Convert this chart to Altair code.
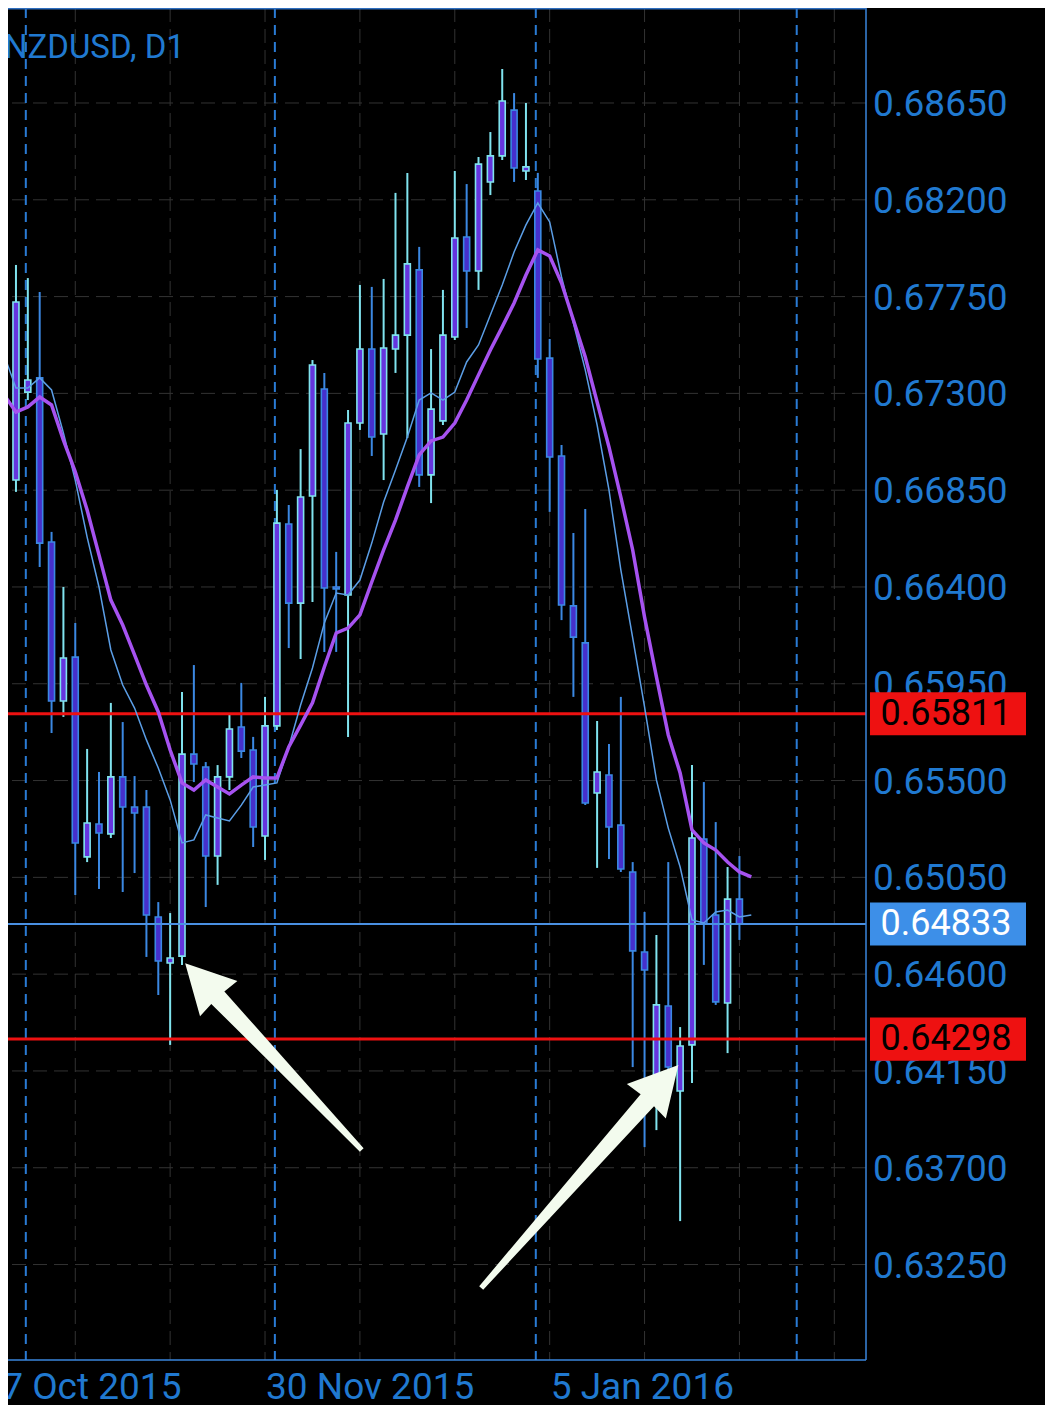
import altair as alt
import pandas as pd

# ---------------- data ----------------
bar_index = list(range(62))
open_ = [0.66897, 0.67306, 0.67372, 0.66609, 0.65870, 0.66074, 0.65145, 0.65298, 0.65252, 0.65517,
         0.65377, 0.65377, 0.64866, 0.64652, 0.64684, 0.65623, 0.65563, 0.65149, 0.65517, 0.65749,
         0.65642, 0.65242, 0.65754, 0.66693, 0.66325, 0.66823, 0.67320, 0.66400, 0.66363, 0.67162,
         0.67506, 0.67111, 0.67506, 0.67571, 0.67874, 0.66921, 0.67172, 0.67562, 0.68027, 0.67869,
         0.68283, 0.68404, 0.68617, 0.68334, 0.68241, 0.67464, 0.67009, 0.66312, 0.66140, 0.65442,
         0.65526, 0.65293, 0.65075, 0.64703, 0.64131, 0.64452, 0.64057, 0.64271, 0.65228, 0.64875,
         0.64466, 0.64949]
high = [0.67897, 0.67836, 0.67771, 0.66656, 0.66400, 0.66233, 0.65647, 0.65540, 0.65861, 0.65772,
        0.65521, 0.65456, 0.64935, 0.64884, 0.65912, 0.66037, 0.65586, 0.65572, 0.65805, 0.65954,
        0.65703, 0.65889, 0.66851, 0.66781, 0.67041, 0.67455, 0.67395, 0.66563, 0.67223, 0.67804,
        0.67795, 0.67832, 0.68232, 0.68325, 0.67981, 0.67506, 0.67781, 0.68334, 0.68273, 0.68399,
        0.68515, 0.68808, 0.68696, 0.68650, 0.68325, 0.67553, 0.67060, 0.66651, 0.66763, 0.65777,
        0.65670, 0.65889, 0.65121, 0.64889, 0.64782, 0.65121, 0.64354, 0.65572, 0.65493, 0.65307,
        0.65098, 0.65149]
low = [0.66842, 0.67269, 0.66493, 0.65721, 0.65796, 0.64968, 0.65121, 0.64996, 0.65233, 0.64982,
       0.65070, 0.64680, 0.64503, 0.64271, 0.64643, 0.65493, 0.64912, 0.65015, 0.65456, 0.65605,
       0.65191, 0.65131, 0.65735, 0.66116, 0.66065, 0.66330, 0.66098, 0.66098, 0.65703, 0.67130,
       0.67009, 0.66897, 0.67395, 0.67093, 0.66865, 0.66790, 0.67153, 0.67548, 0.67604, 0.67781,
       0.68222, 0.68385, 0.68283, 0.68292, 0.67372, 0.66749, 0.66246, 0.65889, 0.65386, 0.65094,
       0.65135, 0.65075, 0.64168, 0.63796, 0.63875, 0.64015, 0.63452, 0.64094, 0.64643, 0.64457,
       0.64233, 0.64759]
close = [0.67725, 0.67362, 0.66604, 0.65870, 0.66070, 0.65210, 0.65303, 0.65256, 0.65517, 0.65377,
         0.65349, 0.64875, 0.64661, 0.64675, 0.65623, 0.65577, 0.65149, 0.65517, 0.65740, 0.65637,
         0.65284, 0.65754, 0.66697, 0.66325, 0.66818, 0.67432, 0.66395, 0.66391, 0.67162, 0.67506,
         0.67097, 0.67511, 0.67571, 0.67902, 0.66921, 0.67227, 0.67571, 0.68022, 0.67869, 0.68366,
         0.68404, 0.68659, 0.68348, 0.68353, 0.67460, 0.67004, 0.66316, 0.66167, 0.65396, 0.65540,
         0.65284, 0.65089, 0.64708, 0.64619, 0.64457, 0.64168, 0.64266, 0.65233, 0.64833, 0.64471,
         0.64949, 0.64833]

ma_index = list(range(-1, 63))
ma_fast = [0.67478, 0.67325, 0.67325, 0.67372, 0.67316, 0.67116, 0.66897, 0.66632, 0.66400, 0.66107,
           0.65944, 0.65837, 0.65689, 0.65558, 0.65410, 0.65210, 0.65224, 0.65340, 0.65326, 0.65312,
           0.65386, 0.65470, 0.65479, 0.65489, 0.65656, 0.65851, 0.66023, 0.66233, 0.66372, 0.66363,
           0.66432, 0.66604, 0.66795, 0.66944, 0.67097, 0.67269, 0.67302, 0.67269, 0.67306, 0.67446,
           0.67525, 0.67664, 0.67804, 0.67957, 0.68083, 0.68185, 0.68097, 0.67841, 0.67627, 0.67409,
           0.67153, 0.66851, 0.66479, 0.66163, 0.65842, 0.65503, 0.65279, 0.65098, 0.64852, 0.64838,
           0.64889, 0.64898, 0.64866, 0.64875]
ma_slow = [0.67293, 0.67213, 0.67237, 0.67283, 0.67246, 0.67083, 0.66935, 0.66758, 0.66549, 0.66339,
           0.66223, 0.66084, 0.65944, 0.65819, 0.65642, 0.65489, 0.65456, 0.65503, 0.65470, 0.65438,
           0.65479, 0.65517, 0.65512, 0.65512, 0.65656, 0.65758, 0.65861, 0.66028, 0.66186, 0.66209,
           0.66270, 0.66423, 0.66572, 0.66711, 0.66865, 0.67014, 0.67079, 0.67097, 0.67162, 0.67269,
           0.67386, 0.67502, 0.67609, 0.67720, 0.67850, 0.67967, 0.67939, 0.67813, 0.67641, 0.67469,
           0.67260, 0.67051, 0.66818, 0.66572, 0.66260, 0.65982, 0.65712, 0.65535, 0.65270, 0.65210,
           0.65177, 0.65121, 0.65075, 0.65052]

y_ticks = [0.6325, 0.6370, 0.6415, 0.6460, 0.6505, 0.6550, 0.6595,
           0.6640, 0.6685, 0.6730, 0.6775, 0.6820, 0.6865]
grid_bars = [5, 13, 21, 29, 37, 45, 53, 61, 69]
date_bars = [-3, 21, 45]
date_labels = ["27 Oct 2015", "30 Nov 2015", "5 Jan 2016"]
month_separators = [0.83, 21.83, 43.83, 65.83]
level_prices = [0.65811, 0.64298]
current_price = [0.64833]
symbol_title = ["NZDUSD, D1"]
arrow_bar = [21.71, 47.54]
arrow_price = [0.64217, 0.63659]

# ---------------- styles ----------------
BG = "#000000"
GRID = "#333333"
AXIS = "#3a86dc"
LABEL = "#2079d0"
BULL_LINE = "#80e3ee"
BEAR_LINE = "#3b88e2"
BULL_FILL = "#6535de"
BEAR_FILL = "#4630cc"
FAST = "#5b9ee6"
SLOW = "#a652f0"
RED = "#ee1111"
CUR = "#4a90e2"
ARROW = "#f3fbee"

W, H = 858, 1352
xs = alt.Scale(domain=[-0.25, 71.25], nice=False, zero=False)
ys = alt.Scale(domain=[0.628062, 0.690916], nice=False, zero=False)


def X(field):
    return alt.X(field, scale=xs, axis=None)


def Y(field):
    return alt.Y(field, scale=ys, axis=None)


candles = pd.DataFrame({"i": bar_index, "o": open_, "h": high, "l": low, "c": close})
candles["dir"] = ["up" if c > o else "down" for o, c in zip(open_, close)]
ma = pd.DataFrame({"i": ma_index, "fast": ma_fast, "slow": ma_slow})
yt = pd.DataFrame({"v": y_ticks})
yt["lbl"] = [f"{v:.5f}" for v in y_ticks]

line_scale = alt.Scale(domain=["up", "down"], range=[BULL_LINE, BEAR_LINE])
fill_scale = alt.Scale(domain=["up", "down"], range=[BULL_FILL, BEAR_FILL])

hgrid = alt.Chart(yt).mark_rule(color=GRID, strokeWidth=1, strokeDash=[14, 7]).encode(y=Y("v:Q"))
vgrid = alt.Chart(pd.DataFrame({"v": grid_bars})).mark_rule(
    color=GRID, strokeWidth=1, strokeDash=[14, 7]).encode(x=X("v:Q"))
ylabels = alt.Chart(yt).mark_text(
    font="Roboto", fontSize=37, align="left", baseline="middle", color=LABEL, dy=2
).encode(x=alt.value(865), y=Y("v:Q"), text="lbl:N")

seps = alt.Chart(pd.DataFrame({"s": month_separators})).mark_rule(
    color="#2a7bd4", strokeWidth=2, strokeDash=[10, 7]
).encode(x=X("s:Q"))

wicks = alt.Chart(candles).mark_rule(strokeWidth=2, clip=True).encode(
    x=X("i:Q"), y=Y("l:Q"), y2="h:Q",
    color=alt.Color("dir:N", scale=line_scale, legend=None),
)
bodies = alt.Chart(candles).mark_bar(size=6, strokeWidth=1.6, clip=True).encode(
    x=X("i:Q"), y=Y("o:Q"), y2="c:Q",
    fill=alt.Fill("dir:N", scale=fill_scale, legend=None),
    stroke=alt.Stroke("dir:N", scale=line_scale, legend=None),
)

levels = alt.Chart(pd.DataFrame({"p": level_prices})).mark_rule(color=RED, strokeWidth=3).encode(
    y=Y("p:Q"))
cur = alt.Chart(pd.DataFrame({"p": current_price})).mark_rule(color=CUR, strokeWidth=2).encode(
    y=Y("p:Q"))

fast = alt.Chart(ma).mark_line(color=FAST, strokeWidth=1.5, clip=True).encode(x=X("i:Q"), y=Y("fast:Q"))
slow = alt.Chart(ma).mark_line(color=SLOW, strokeWidth=3.5, clip=True).encode(x=X("i:Q"), y=Y("slow:Q"))

arrow_df = pd.DataFrame({
    "i": arrow_bar,
    "p": arrow_price,
    "shape": ["M0,-1L0.2,-0.62L0.07,-0.63L0.02,1L-0.02,1L-0.07,-0.63L-0.2,-0.62Z",
              "M0,-1L0.175,-0.675L0.06,-0.685L0.018,1L-0.018,1L-0.06,-0.685L-0.175,-0.675Z"],
    "ang": [316.6, 41.5],
    "sz": [66049, 88566],
})
arrows = alt.Chart(arrow_df).mark_point(filled=True, opacity=1, color=ARROW, strokeWidth=0).encode(
    x=X("i:Q"), y=Y("p:Q"),
    shape=alt.Shape("shape:N", scale=None),
    angle=alt.Angle("ang:Q", scale=None),
    size=alt.Size("sz:Q", scale=None),
)

box_df = pd.DataFrame({
    "p": level_prices + current_price,
    "bg": [RED, RED, "#3d8fe8"],
    "fg": ["#000000", "#000000", "#ffffff"],
})
box_df["t"] = [f"{v:.5f}" for v in box_df["p"]]
boxes = alt.Chart(box_df).mark_point(
    filled=True, opacity=1, strokeWidth=0, size=24336,
    shape="M-1,-0.276L1,-0.276L1,0.276L-1,0.276Z"
).encode(x=alt.value(940), y=Y("p:Q"), color=alt.Color("bg:N", scale=None))
box_text = alt.Chart(box_df).mark_text(
    font="Roboto", fontSize=36, align="center", baseline="middle"
).encode(x=alt.value(938), y=Y("p:Q"), text="t:N", color=alt.Color("fg:N", scale=None))

title = alt.Chart(pd.DataFrame({"t": symbol_title})).mark_text(
    font="Roboto", fontSize=33, align="left", baseline="alphabetic", color=LABEL
).encode(x=alt.value(-4), y=alt.value(50), text="t:N")

dates = alt.Chart(pd.DataFrame({"i": date_bars, "t": date_labels})).mark_text(
    font="Roboto", fontSize=37, align="left", baseline="alphabetic", color=LABEL, dx=1
).encode(x=X("i:Q"), y=alt.value(1391), text="t:N")

frame = pd.DataFrame({"k": [0]})
top_border = alt.Chart(frame).mark_rule(color="#2f6fc0", strokeWidth=1.5).encode(
    x=alt.value(0), x2=alt.value(W), y=alt.value(0.75))
right_axis = alt.Chart(frame).mark_rule(color=AXIS, strokeWidth=1.5).encode(
    x=alt.value(W), y=alt.value(0), y2=alt.value(H))
bottom_axis = alt.Chart(frame).mark_rule(color=AXIS, strokeWidth=1.5).encode(
    x=alt.value(0), x2=alt.value(W), y=alt.value(H))

chart = alt.layer(
    hgrid, vgrid, seps, wicks, bodies, levels, cur, fast, slow, arrows,
    right_axis, bottom_axis, top_border, ylabels, boxes, box_text, title, dates
).properties(
    width=W, height=H,
    autosize=alt.AutoSizeParams(type="none"),
    padding={"left": 0, "top": 0, "right": 179, "bottom": 45},
    background=BG,
).configure_view(strokeWidth=0)

chart.save("out.html", embed_options={"renderer": "svg", "actions": False})
